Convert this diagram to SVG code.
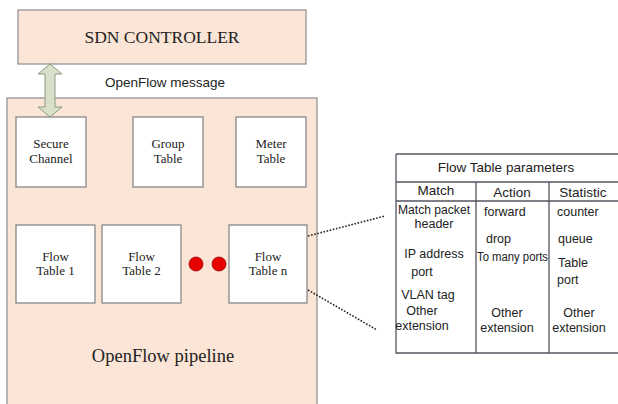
<svg xmlns="http://www.w3.org/2000/svg" width="618" height="404" viewBox="0 0 618 404">
<style>
.peach{fill:#fbe5d6;stroke:#8c8c8c;stroke-width:1.2}
.box{fill:#ffffff;stroke:#7f7f7f;stroke-width:1.2}
.serif{font-family:"Liberation Serif","Times New Roman",serif;fill:#222;text-anchor:middle}
.sans{font-family:"Liberation Sans",Arial,sans-serif;fill:#222}
.tl{font-family:"Liberation Sans",Arial,sans-serif;font-size:12.5px;fill:#222}
.c{text-anchor:middle}
.dot{stroke:#222;stroke-width:1.6;stroke-dasharray:1.6 1.6;fill:none}
.tb{stroke:#555560;stroke-width:1.3;fill:none}
</style>
<rect width="618" height="404" fill="#ffffff"/>
<g id="controller">
<rect class="peach" x="18" y="10" width="288" height="54"/>
<text class="serif" x="162" y="43" font-size="17.5">SDN CONTROLLER</text>
</g>
<g id="pipeline">
<rect class="peach" x="7" y="98" width="310" height="320"/>
<text class="serif" x="163" y="362" font-size="18.5">OpenFlow pipeline</text>
</g>
<g id="secure-channel">
<rect class="box" x="16" y="117" width="70" height="70"/>
<text class="serif" x="51" y="148" font-size="13">Secure</text>
<text class="serif" x="51" y="163" font-size="13">Channel</text>
</g>
<g id="group-table">
<rect class="box" x="133" y="117" width="70" height="70"/>
<text class="serif" x="168" y="148" font-size="13">Group</text>
<text class="serif" x="168" y="163" font-size="13">Table</text>
</g>
<g id="meter-table">
<rect class="box" x="236" y="117" width="70" height="70"/>
<text class="serif" x="271" y="148" font-size="13">Meter</text>
<text class="serif" x="271" y="163" font-size="13">Table</text>
</g>
<g id="flow-table-1">
<rect class="box" x="16" y="225" width="79" height="78"/>
<text class="serif" x="55.5" y="261" font-size="13">Flow</text>
<text class="serif" x="55.5" y="275" font-size="13">Table 1</text>
</g>
<g id="flow-table-2">
<rect class="box" x="102" y="225" width="79" height="78"/>
<text class="serif" x="141.5" y="261" font-size="13">Flow</text>
<text class="serif" x="141.5" y="275" font-size="13">Table 2</text>
</g>
<g id="dots">
<circle cx="196" cy="264" r="7" fill="#e60000" stroke="#a00000" stroke-width="0.8"/>
<circle cx="219" cy="264" r="7" fill="#e60000" stroke="#a00000" stroke-width="0.8"/>
</g>
<g id="flow-table-n">
<rect class="box" x="229" y="225" width="78" height="78"/>
<text class="serif" x="268" y="261" font-size="13">Flow</text>
<text class="serif" x="268" y="275" font-size="13">Table n</text>
</g>
<g id="connectors">
<path d="M45,74 L38,74 L50,64 L62,74 L55,74 L55,107 L62,107 L50,117 L38,107 L45,107 Z" fill="#d8e0c9" stroke="#8f9a86" stroke-width="1"/>
<text class="sans" x="105" y="87" font-size="13.5">OpenFlow message</text>
<line class="dot" x1="308" y1="236" x2="385" y2="216"/>
<line class="dot" x1="308" y1="290" x2="377" y2="330"/>
</g>
<g id="flow-table-parameters">
<rect x="396" y="154" width="240" height="199" fill="#ffffff"/>
<path class="tb" d="M396,154 H625 M396,154 V353 H625 M396,182 H625 M396,201 H625 M476,182 V353 M549,182 V353"/>
<text class="sans c" x="506" y="172" font-size="13.5">Flow Table parameters</text>
<text class="sans c" x="436" y="195" font-size="13.5">Match</text>
<text class="sans c" x="512" y="197" font-size="13.5">Action</text>
<text class="sans c" x="583" y="197" font-size="13.5">Statistic</text>
<text class="tl" x="398" y="214" textLength="72" lengthAdjust="spacingAndGlyphs">Match packet</text>
<text class="tl c" x="434" y="228">header</text>
<text class="tl c" x="434" y="258">IP address</text>
<text class="tl c" x="422" y="276">port</text>
<text class="tl c" x="428" y="299">VLAN tag</text>
<text class="tl c" x="422" y="315">Other</text>
<text class="tl c" x="422" y="330">extension</text>
<text class="tl" x="484" y="216">forward</text>
<text class="tl" x="486" y="243">drop</text>
<text class="tl" x="477" y="261" textLength="71" lengthAdjust="spacingAndGlyphs">To many ports</text>
<text class="tl c" x="507" y="317">Other</text>
<text class="tl c" x="507" y="332">extension</text>
<text class="tl" x="557" y="216">counter</text>
<text class="tl" x="558" y="243">queue</text>
<text class="tl" x="558" y="267">Table</text>
<text class="tl" x="557" y="284">port</text>
<text class="tl c" x="579" y="317">Other</text>
<text class="tl c" x="579" y="332">extension</text>
</g>
</svg>
